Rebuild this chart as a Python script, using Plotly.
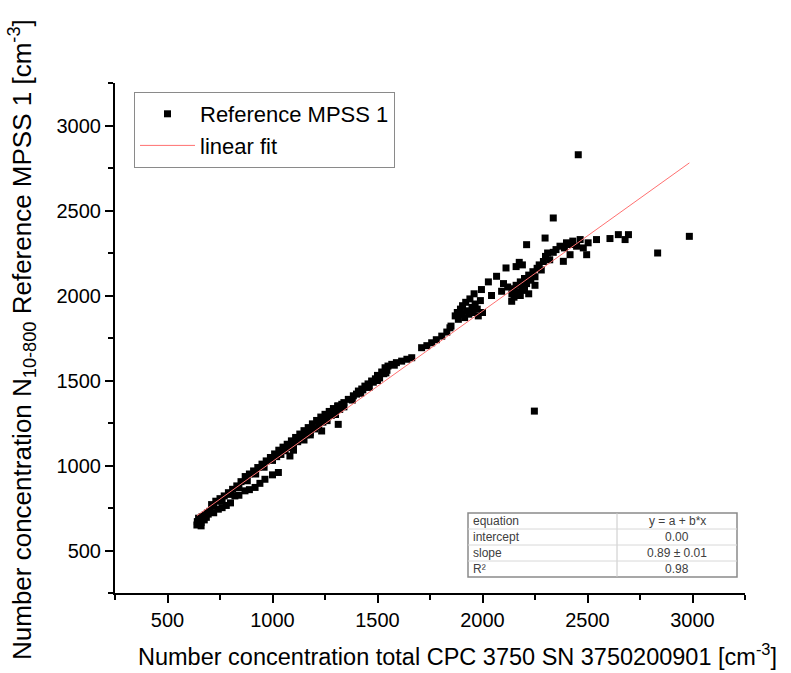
import plotly.graph_objects as go

# ---- data ----
cpc_x = [
    640, 645, 650, 642, 655, 660, 648, 665, 670, 680, 675, 660, 690, 700, 685,
    710, 730, 750, 770, 790, 810, 830, 850, 870, 890, 910, 930, 950, 970, 990,
    1010, 1030, 1050, 1070, 1090, 1110, 1130, 1150, 1170, 1190, 1210, 1230, 1250, 1270, 1290,
    1310, 1330,
    720, 760, 800, 840, 880, 920, 960, 1000, 1040, 1080, 1120, 1160, 1200, 1240, 1280, 1320,
    694, 720, 742, 760, 780, 800, 821, 840, 869, 890, 917, 940, 964, 1000, 1028,
    1083, 1234, 1313, 1150, 1180, 1100,
    1020, 1060, 1100, 1140, 1180, 1220, 1260, 1300, 1340, 1380, 1420, 1460, 1500, 1540, 1580,
    1255, 1275, 1298, 1313, 1340, 1361, 1385, 1409, 1425, 1440, 1455, 1472, 1490, 1504, 1520,
    1536, 1550, 1568, 1590, 1615, 1640, 1663, 1400, 1430, 1460, 1480, 1510, 1530, 1545, 1450, 1500,
    1710, 1735, 1758, 1780, 1806, 1830, 1845, 1850,
    1870, 1880, 1885, 1895, 1900, 1905, 1915, 1920, 1925, 1935, 1940, 1950, 1955, 1960, 1965,
    1975, 1980, 1990, 1995, 2000,
    2028, 2043, 2067, 2091, 2112, 2139, 2160, 2175, 2190, 2210, 2298, 2337, 2456,
    2140, 2150, 2160, 2170, 2180, 2190, 2200, 2210, 2220, 2230, 2240, 2250, 2260, 2270, 2280,
    2290, 2300, 2310, 2320, 2180, 2150, 2200, 2220, 2250, 2120, 2100,
    2337, 2385, 2369, 2390, 2417, 2448, 2465, 2480, 2496, 2503, 2543, 2607, 2647, 2679, 2695,
    2834, 2985, 2247, 2420, 2350, 2400, 2430,
]
mpss_y = [
    650, 660, 655, 670, 675, 665, 690, 700, 690, 710, 680, 645, 720, 730, 695,
    770, 790, 805, 821, 840, 860, 880, 905, 935, 950, 968, 988, 1008, 1027, 1047,
    1068, 1090, 1108, 1125, 1145, 1165, 1185, 1205, 1223, 1245, 1265, 1285, 1301, 1318, 1335,
    1350, 1360,
    760, 790, 830, 870, 910, 950, 990, 1030, 1065, 1105, 1140, 1180, 1215, 1255, 1295, 1330,
    714, 722, 743, 752, 765, 780, 821, 825, 851, 858, 871, 895, 919, 945, 959,
    1056, 1203, 1242, 1150, 1180, 1090,
    1052, 1087, 1123, 1158, 1193, 1229, 1264, 1300, 1345, 1385, 1425, 1460, 1500, 1545, 1590,
    1280, 1300, 1313, 1350, 1370, 1389, 1410, 1438, 1450, 1467, 1480, 1497, 1510, 1526, 1550,
    1575, 1585, 1595, 1605, 1614, 1625, 1634, 1420, 1445, 1470, 1490, 1515, 1540, 1560, 1460, 1530,
    1693, 1705, 1722, 1740, 1761, 1785, 1810, 1820,
    1880, 1900, 1860, 1920, 1890, 1940, 1870, 1960, 1910, 1890, 1980, 1930, 1900, 2010, 1950,
    1920, 1880, 1970, 2035, 1900,
    2080, 2000, 2113, 2025, 2162, 1966, 2170, 2195, 2180, 2299, 2338, 2456, 2828,
    2010, 2040, 2060, 2020, 2080, 2050, 2100, 2070, 2120, 2090, 2140, 2110, 2160, 2180, 2150,
    2200, 2230, 2250, 2210, 2000, 1990, 2030, 2010, 2060, 2050, 2070,
    2254, 2201, 2290, 2280, 2240, 2290, 2329, 2280, 2240, 2310, 2329, 2335, 2358, 2329, 2358,
    2250, 2348, 1320, 2300, 2270, 2310, 2320,
]
fit_x = [640, 2985]
fit_y = [705, 2780]

x_ticks = [500, 1000, 1500, 2000, 2500, 3000]
y_ticks = [500, 1000, 1500, 2000, 2500, 3000]

table_labels = ["equation", "intercept", "slope", "R²"]
table_values = ["y = a + b*x", "0.00", "0.89 ± 0.01", "0.98"]

FONT = "Liberation Sans, Arial, sans-serif"

fig = go.Figure()
fig.add_trace(go.Scatter(
    x=cpc_x, y=mpss_y, mode="markers", name="Reference MPSS 1",
    marker=dict(symbol="square", size=7, color="black", line=dict(width=0)),
))
fig.add_trace(go.Scatter(
    x=fit_x, y=fit_y, mode="lines", name="linear fit",
    line=dict(color="#ff7070", width=1),
))

axis_common = dict(
    showgrid=False, zeroline=False, showline=True, linecolor="black", linewidth=2,
    ticks="outside", ticklen=8, tickwidth=2, tickcolor="black",
    tickfont=dict(family=FONT, size=20, color="black"),
    minor=dict(ticks="outside", ticklen=5, tickwidth=2, tickcolor="black",
               dtick=250, tick0=250),
    range=[250, 3250], tickmode="array",
)
fig.update_xaxes(**axis_common, tickvals=x_ticks, ticktext=[str(v) for v in x_ticks])
fig.update_yaxes(**axis_common, tickvals=y_ticks, ticktext=[str(v) for v in y_ticks])

L, R, T, B = 115, 46, 83, 80
W, H = 791, 673
pw, ph = W - L - R, H - T - B

def px2paper_x(px):
    return (px - L) / pw

def py2paper_y(py):
    return (H - B - py) / ph

annotations = [
    dict(text="Number concentration total CPC 3750 SN 3750200901 [cm<sup>-3</sup>]",
         xref="paper", yref="paper", x=px2paper_x(458), y=py2paper_y(655),
         xanchor="center", yanchor="middle", showarrow=False,
         font=dict(family=FONT, size=23.5, color="black")),
    dict(text="Number concentration N<sub>10-800</sub> Reference MPSS 1 [cm<sup>-3</sup>]",
         xref="paper", yref="paper", x=px2paper_x(22), y=py2paper_y(340),
         xanchor="center", yanchor="middle", showarrow=False, textangle=-90,
         font=dict(family=FONT, size=26, color="black")),
]

# fit-result table
tx0, tx1, tmid = 468, 737, 617
ty0, ty1 = 513, 577
row_h = (ty1 - ty0) / len(table_labels)
shapes = [dict(type="rect", xref="paper", yref="paper",
               x0=px2paper_x(tx0), x1=px2paper_x(tx1), y0=py2paper_y(ty1), y1=py2paper_y(ty0),
               line=dict(color="#8a8a8a", width=1.5), fillcolor="white", layer="above")]
shapes.append(dict(type="line", xref="paper", yref="paper",
                   x0=px2paper_x(tmid), x1=px2paper_x(tmid), y0=py2paper_y(ty1), y1=py2paper_y(ty0),
                   line=dict(color="#c8c8c8", width=1), layer="above"))
for i in range(1, len(table_labels)):
    yy = ty0 + i * row_h
    shapes.append(dict(type="line", xref="paper", yref="paper",
                       x0=px2paper_x(tx0), x1=px2paper_x(tx1), y0=py2paper_y(yy), y1=py2paper_y(yy),
                       line=dict(color="#d8d8d8", width=1), layer="above"))
for i, (lab, val) in enumerate(zip(table_labels, table_values)):
    yc = ty0 + (i + 0.5) * row_h
    annotations.append(dict(text=lab, xref="paper", yref="paper",
                            x=px2paper_x(tx0 + 3), y=py2paper_y(yc),
                            xanchor="left", yanchor="middle", showarrow=False,
                            font=dict(family=FONT, size=12, color="#404040")))
    annotations.append(dict(text=val, xref="paper", yref="paper",
                            x=px2paper_x((tmid + tx1) / 2), y=py2paper_y(yc),
                            xanchor="center", yanchor="middle", showarrow=False,
                            font=dict(family=FONT, size=12, color="#404040")))

fig.update_layout(
    width=W, height=H,
    margin=dict(l=L, r=R, t=T, b=B, pad=0),
    paper_bgcolor="white", plot_bgcolor="white",
    showlegend=True,
    legend=dict(x=px2paper_x(134), y=py2paper_y(92), xanchor="left", yanchor="top",
                bgcolor="white", bordercolor="#8a8a8a", borderwidth=1,
                font=dict(family=FONT, size=22, color="black"),
                itemwidth=55, tracegroupgap=0),
    annotations=annotations,
    shapes=shapes,
)

fig.write_html("out.html")
